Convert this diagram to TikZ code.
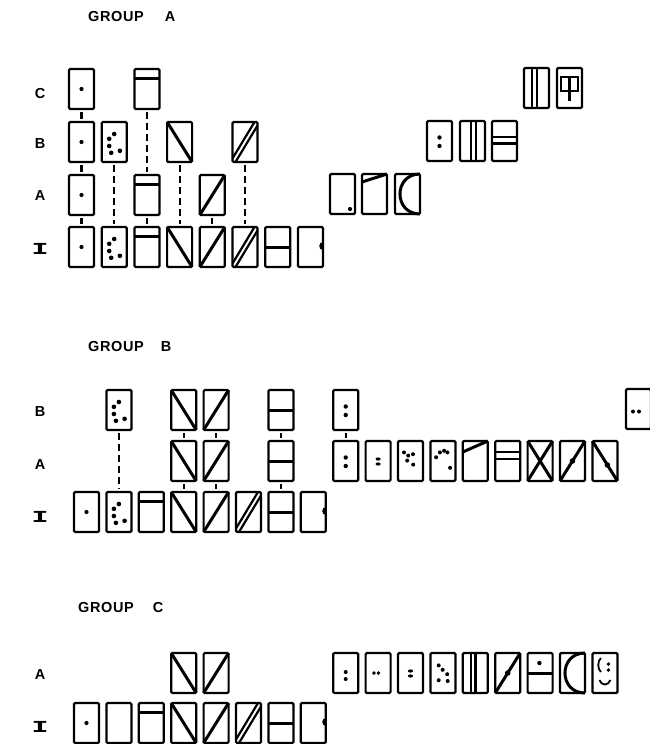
\documentclass[tikz,border=0pt]{standalone}
\usepackage{fontspec}
\setmainfont{Liberation Sans}
\newfontfamily\slabfont{DejaVu Sans Mono}
\tikzset{
 frame/.style={draw,line width=2.2pt,rounded corners=1.2pt,minimum width=25pt,minimum height=40pt,inner sep=0pt,outer sep=0pt},
 ink/.style={line width=3pt},
 inkthin/.style={line width=2.2pt},
 conn/.style={line width=2.1pt,dash pattern=on 6.5pt off 4.5pt,shorten <=3pt,shorten >=3pt},
 lab/.style={font=\bfseries\fontsize{14.5}{15}\selectfont,inner sep=0pt},
 pics/cblank/.style={code={\node[frame] (-c) at (12.5,20) {};}},
 pics/cdot/.style={code={\node[frame] (-c) at (12.5,20) {}; \fill (12.5,20) circle (2.1);}},
 pics/cfive/.style={code={\node[frame] (-c) at (12.5,20) {};
   \foreach \p in {(12.5,12),(7.5,16.8),(7.5,24),(9.5,30.8),(18.2,28.8)} \fill \p circle (2.3);}},
 pics/ctop/.style={code={\node[frame] (-c) at (12.5,20) {}; \draw[ink] (0,9) -- (25,9);}},
 pics/cbs/.style={code={\node[frame] (-c) at (12.5,20) {}; \draw[ink] (0,0) -- (25,40);}},
 pics/cfs/.style={code={\node[frame] (-c) at (12.5,20) {}; \draw[ink] (0,40) -- (25,0);}},
 pics/cds/.style={code={\node[frame] (-c) at (12.5,20) {}; \draw[inkthin] (0,36.5) -- (22,0); \draw[inkthin] (3,40) -- (25,3.5);}},
 pics/cmid/.style={code={\node[frame] (-c) at (12.5,20) {}; \draw[ink] (0,20) -- (25,20);}},
 pics/chalf/.style={code={\node[frame] (-c) at (12.5,20) {}; \fill (25,14.5) .. controls (20,14.5) and (20,22.5) .. (25,22.5) -- cycle;}},
 pics/ccolon/.style={code={\node[frame] (-c) at (12.5,20) {}; \fill (12.5,16.5) circle (2.2); \fill (12.5,25) circle (2.2);}},
 pics/ccolonC/.style={code={\node[frame] (-c) at (12.5,20) {}; \fill (12.5,19) circle (2); \fill (12.5,26) circle (2);}},
 pics/ceq/.style={code={\node[frame] (-c) at (12.5,20) {}; \fill (12.5,18) circle [x radius=2.6,y radius=1.6]; \fill (12.5,23) circle [x radius=2.6,y radius=1.6];}},
 pics/cscat/.style={code={\node[frame] (-c) at (12.5,20) {};
   \foreach \p in {(6,11.4),(10.2,14.6),(15,13.2),(9.2,19.6),(15.2,23.6)} \fill \p circle (2);}},
 pics/carcd/.style={code={\node[frame] (-c) at (12.5,20) {};
   \foreach \p in {(5.7,16.3),(9.5,11.4),(13.7,9.8),(17,11.4),(19.7,26.8)} \fill \p circle (2);}},
 pics/cfiveC/.style={code={\node[frame] (-c) at (12.5,20) {};
   \foreach \p in {(8.3,12.4),(12.3,16.8),(16.8,21.2),(8.3,27.2),(17.3,28)} \fill \p circle (2);}},
 pics/cslant/.style={code={\node[frame] (-c) at (12.5,20) {}; \draw[ink] (0,8) -- (25,0);}},
 pics/cslantb/.style={code={\node[frame] (-c) at (12.5,20) {}; \draw[ink] (0,11) -- (25,0);}},
 pics/chh/.style={code={\node[frame] (-c) at (12.5,20) {}; \draw[inkthin] (0,15.6) -- (25,15.6); \draw[inkthin] (0,22.4) -- (25,22.4);}},
 pics/chhB/.style={code={\node[frame] (-c) at (12.5,20) {}; \draw[inkthin] (0,11) -- (25,11); \draw[inkthin] (0,18) -- (25,18);}},
 pics/cvv/.style={code={\node[frame] (-c) at (12.5,20) {}; \draw[inkthin] (11,0) -- (11,40); \draw[inkthin] (16,0) -- (16,40);}},
 pics/cbars/.style={code={\node[frame] (-c) at (12.5,20) {}; \draw[inkthin] (7.8,0) -- (7.8,40); \draw[inkthin] (12.7,0) -- (12.7,40);}},
 pics/ckey/.style={code={\node[frame] (-c) at (12.5,20) {}; \draw[inkthin] (4,9) rectangle (21,23); \draw[ink] (12.5,9) -- (12.5,33);}},
 pics/ccorner/.style={code={\node[frame] (-c) at (12.5,20) {}; \fill (20,35) circle (2.1);}},
 pics/carc/.style={code={\node[frame] (-c) at (12.5,20) {}; \draw[ink] (25,0) .. controls (-1.7,0) and (-1.7,40) .. (25,40);}},
 pics/ccross/.style={code={\node[frame] (-c) at (12.5,20) {}; \draw[ink] (0,0) -- (25,40); \draw[ink] (25,0) -- (0,40);}},
 pics/cfsd/.style={code={\node[frame] (-c) at (12.5,20) {}; \draw[ink] (0,40) -- (25,0); \fill (12.5,20) circle (2.8);}},
 pics/cbsd/.style={code={\node[frame] (-c) at (12.5,20) {}; \draw[ink] (0,0) -- (25,40); \fill (15,24) circle (2.8);}},
 pics/chd/.style={code={\node[frame] (-c) at (12.5,20) {}; \fill (8.3,20) circle (1.9); \fill (12.8,20) circle (1.9);}},
 pics/chdR/.style={code={\node[frame] (-c) at (12.5,20) {}; \fill (7,22.5) circle (2); \fill (13,22.5) circle (2);}},
 pics/cdotmid/.style={code={\node[frame] (-c) at (12.5,20) {}; \fill (11.8,10) circle (2.2); \draw[ink] (0,20) -- (25,20);}},
 pics/csmile/.style={code={\node[frame] (-c) at (12.5,20) {};
   \draw[line width=1.8pt] (8.5,5) .. controls (5,8) and (5,16) .. (8.5,19);
   \fill (16,11) circle (1.9); \fill (16,17) circle (1.9);
   \draw[line width=1.8pt] (7,27) .. controls (9,33) and (16,33) .. (18,27);}},
}
\newcommand{\ilabel}{{\slabfont\bfseries\scalebox{2.0}[1.05]{I}}}
\begin{document}
\begin{tikzpicture}[x=1pt,y=-1pt]
\useasboundingbox (0,0) rectangle (650,744);
% ---------------- GROUP A ----------------
\node[lab,anchor=west] (gA) at (88,17) {G\kern0.6pt R\kern0.6pt O\kern0.6pt U\kern0.6pt P\hspace{21pt}A};
\node[lab] (lAC) at (40,94) {C};
\node[lab] (lAB) at (40,144) {B};
\node[lab] (lAA) at (40,196) {A};
\node[lab] (lAI) at (40,249) {\ilabel};
% row C
\pic (aC1) at (69,69) {cdot};
\pic (aC3) at (134.4,69) {ctop};
\pic (aCr1) at (524,68) {cbars};
\pic (aCr2) at (557,68) {ckey};
% row B
\pic (aB1) at (69,122) {cdot};
\pic (aB2) at (101.7,122) {cfive};
\pic (aB4) at (167.1,122) {cbs};
\pic (aB6) at (232.5,122) {cds};
\pic (aBr1) at (427,121) {ccolon};
\pic (aBr2) at (460,121) {cvv};
\pic (aBr3) at (492,121) {chh};
% row A
\pic (aA1) at (69,175) {cdot};
\pic (aA3) at (134.4,175) {ctop};
\pic (aA5) at (199.8,175) {cfs};
\pic (aAr1) at (330,174) {ccorner};
\pic (aAr2) at (362,174) {cslant};
\pic (aAr3) at (395,174) {carc};
% row I
\pic (aI1) at (69,227) {cdot};
\pic (aI2) at (101.7,227) {cfive};
\pic (aI3) at (134.4,227) {ctop};
\pic (aI4) at (167.1,227) {cbs};
\pic (aI5) at (199.8,227) {cfs};
\pic (aI6) at (232.5,227) {cds};
\pic (aI7) at (265.2,227) {cmid};
\pic (aI8) at (297.9,227) {chalf};
% connectors
\draw[conn] (aC1-c.south) -- (aB1-c.north);
\draw[conn] (aB1-c.south) -- (aA1-c.north);
\draw[conn] (aA1-c.south) -- (aI1-c.north);
\draw[conn] (aB2-c.south) -- (aI2-c.north);
\draw[conn] (aC3-c.south) -- (aA3-c.north);
\draw[conn] (aA3-c.south) -- (aI3-c.north);
\draw[conn] (aB4-c.south) -- (aI4-c.north);
\draw[conn] (aA5-c.south) -- (aI5-c.north);
\draw[conn] (aB6-c.south) -- (aI6-c.north);
% ---------------- GROUP B ----------------
\node[lab,anchor=west] (gB) at (88,347) {G\kern0.6pt R\kern0.6pt O\kern0.6pt U\kern0.6pt P\hspace{17pt}B};
\node[lab] (lBB) at (40,412) {B};
\node[lab] (lBA) at (40,465) {A};
\node[lab] (lBI) at (40,517) {\ilabel};
% row B
\pic (bB2) at (106.4,390) {cfive};
\pic (bB4) at (171.2,390) {cbs};
\pic (bB5) at (203.6,390) {cfs};
\pic (bB7) at (268.4,390) {cmid};
\pic (bB9) at (333.2,390) {ccolon};
\pic (bBx) at (626,389) {chdR};
% row A
\pic (bA4) at (171.2,441) {cbs};
\pic (bA5) at (203.6,441) {cfs};
\pic (bA7) at (268.4,441) {cmid};
\pic (bA9) at (333.2,441) {ccolon};
\pic (bA10) at (365.6,441) {ceq};
\pic (bA11) at (398,441) {cscat};
\pic (bA12) at (430.4,441) {carcd};
\pic (bA13) at (462.8,441) {cslantb};
\pic (bA14) at (495.2,441) {chhB};
\pic (bA15) at (527.6,441) {ccross};
\pic (bA16) at (560,441) {cfsd};
\pic (bA17) at (592.4,441) {cbsd};
% row I
\pic (bI1) at (74,492) {cdot};
\pic (bI2) at (106.4,492) {cfive};
\pic (bI3) at (138.8,492) {ctop};
\pic (bI4) at (171.2,492) {cbs};
\pic (bI5) at (203.6,492) {cfs};
\pic (bI6) at (236,492) {cds};
\pic (bI7) at (268.4,492) {cmid};
\pic (bI8) at (300.8,492) {chalf};
% connectors
\draw[conn] (bB2-c.south) -- (bI2-c.north);
\draw[conn] (bB4-c.south) -- (bA4-c.north);
\draw[conn] (bA4-c.south) -- (bI4-c.north);
\draw[conn] (bB5-c.south) -- (bA5-c.north);
\draw[conn] (bA5-c.south) -- (bI5-c.north);
\draw[conn] (bB7-c.south) -- (bA7-c.north);
\draw[conn] (bA7-c.south) -- (bI7-c.north);
\draw[conn] (bB9-c.south) -- (bA9-c.north);
% ---------------- GROUP C ----------------
\node[lab,anchor=west] (gC) at (78,608) {G\kern0.6pt R\kern0.6pt O\kern0.6pt U\kern0.6pt P\hspace{19pt}C};
\node[lab] (lCA) at (40,675) {A};
\node[lab] (lCI) at (40,727) {\ilabel};
% row A
\pic (cA4) at (171.2,653) {cbs};
\pic (cA5) at (203.6,653) {cfs};
\pic (cA9) at (333.2,653) {ccolonC};
\pic (cA10) at (365.6,653) {chd};
\pic (cA11) at (398,653) {ceq};
\pic (cA12) at (430.4,653) {cfiveC};
\pic (cA13) at (462.8,653) {cbars};
\pic (cA14) at (495.2,653) {cfsd};
\pic (cA15) at (527.6,653) {cdotmid};
\pic (cA16) at (560,653) {carc};
\pic (cA17) at (592.4,653) {csmile};
% row I
\pic (cI1) at (74,703) {cdot};
\pic (cI2) at (106.4,703) {cblank};
\pic (cI3) at (138.8,703) {ctop};
\pic (cI4) at (171.2,703) {cbs};
\pic (cI5) at (203.6,703) {cfs};
\pic (cI6) at (236,703) {cds};
\pic (cI7) at (268.4,703) {cmid};
\pic (cI8) at (300.8,703) {chalf};
\end{tikzpicture}
\end{document}
